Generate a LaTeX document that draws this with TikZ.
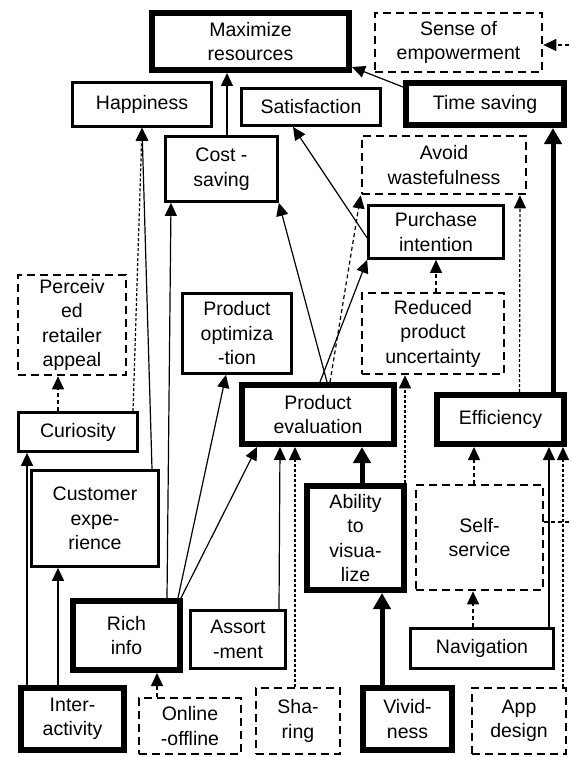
\documentclass[tikz,border=0pt]{standalone}
\usepackage{fontspec}
\setmainfont{Liberation Sans}
\usetikzlibrary{arrows.meta}

\begin{document}
\begin{tikzpicture}[x=1pt,y=-1pt,
  every node/.style={font=\fontsize{19.5}{24.5}\selectfont, align=center, inner sep=0pt},
  thinbox/.style={draw, line width=2.7pt},
  heavybox/.style={draw, line width=6pt},
  dashbox/.style={draw, line width=2.7pt, dash pattern=on 8pt off 5pt},
  conn/.style={line width=1.2pt, -{Triangle[length=13pt,width=12pt]}},
  heavyconn/.style={line width=5pt, -{Triangle[length=16pt,width=17pt]}},
  dashconn/.style={conn, dash pattern=on 4pt off 3pt},
  dotconn/.style={conn, dash pattern=on 3pt off 2pt}]

\useasboundingbox (0,0) rectangle (570,757);

% ---- boxes ----
\node[heavybox, minimum width=197pt, minimum height=57pt] (maxres) at (250.5,41.5) {Maximize\\resources};
\node[dashbox, minimum width=167pt, minimum height=59pt] (sense) at (458.5,42.5) {Sense of\\empowerment};
\node[thinbox, minimum width=139pt, minimum height=44pt] (happy) at (142,104.5) {Happiness};
\node[thinbox, minimum width=139pt, minimum height=37pt] (satis) at (311,107) {Satisfaction};
\node[heavybox, minimum width=158pt, minimum height=42pt] (timesave) at (485,104) {Time saving};
\node[thinbox, minimum width=112pt, minimum height=65pt] (cost) at (221.5,169) {Cost -\\saving};
\node[dashbox, minimum width=164pt, minimum height=58pt] (avoid) at (444,165) {Avoid\\wastefulness};
\node[thinbox, minimum width=135pt, minimum height=53pt] (purch) at (436,232) {Purchase\\intention};
\node[dashbox, minimum width=108pt, minimum height=100pt] (perc) at (72,325) {Perceiv\\ed\\retailer\\appeal};
\node[thinbox, minimum width=109pt, minimum height=80pt] (prodopt) at (237,333.5) {Product\\optimiza\\-tion};
\node[dashbox, minimum width=142pt, minimum height=81pt] (reduced) at (433,333.5) {Reduced\\product\\uncertainty};
\node[thinbox, minimum width=119pt, minimum height=39pt] (curio) at (78,432) {Curiosity};
\node[heavybox, minimum width=152pt, minimum height=59pt] (prodeval) at (318,414.5) {Product\\evaluation};
\node[heavybox, minimum width=127pt, minimum height=49pt] (effic) at (500.5,419.5) {Efficiency};
\node[thinbox, minimum width=127pt, minimum height=96pt] (custexp) at (95,518.5) {Customer\\expe-\\rience};
\node[heavybox, minimum width=97pt, minimum height=104pt] (ability) at (355.5,538) {Ability\\to\\visua-\\lize};
\node[dashbox, minimum width=127pt, minimum height=105pt] (self) at (479.5,537.5) {Self-\\service};
\node[heavybox, minimum width=107pt, minimum height=69pt] (rich) at (126.5,635.5) {Rich\\info};
\node[thinbox, minimum width=95pt, minimum height=58pt] (assort) at (238,639.5) {Assort\\-ment};
\node[thinbox, minimum width=143pt, minimum height=40pt] (navig) at (482,648.5) {Navigation};
\node[heavybox, minimum width=103pt, minimum height=62pt] (inter) at (72.5,719) {Inter-\\activity};
\node[dashbox, minimum width=102pt, minimum height=56pt] (online) at (190,726) {Online\\-offline};
\node[dashbox, minimum width=84pt, minimum height=66pt] (sharing) at (298,721) {Sha-\\ring};
\node[heavybox, minimum width=89pt, minimum height=62pt] (vivid) at (407.5,719) {Vivid-\\ness};
\node[dashbox, minimum width=94pt, minimum height=66pt] (app) at (519,721) {App\\design};

% ---- links into the lower left cluster ----
\draw[conn] ([xshift=-14.5pt]inter.north) -- ([xshift=-37pt]custexp.south);
\draw[conn] ([xshift=-45.5pt]inter.north) -- ([xshift=-51pt]curio.south);
\draw[dashconn] ([xshift=-20pt]curio.north) -- ([xshift=-14pt]perc.south);
\draw[dotconn] ([xshift=55pt]curio.north) -- (happy.south);
\draw[conn] ([xshift=57pt]custexp.north) -- (happy.south);
\draw[dashconn] ([xshift=-33pt]online.north) -- ([xshift=30.5pt]rich.south);

% ---- rich info ----
\draw[conn] ([xshift=40.5pt]rich.north) -- ([xshift=-50.5pt]cost.south);
\draw[conn] ([xshift=51.5pt]rich.north) -- ([xshift=-11pt]prodopt.south);
\draw[conn] ([xshift=-2pt]rich.north east) -- ([xshift=-61pt]prodeval.south);

% ---- into product evaluation ----
\draw[conn] ([xshift=41pt]assort.north) -- ([xshift=-38pt]prodeval.south);
\draw[dotconn] ([xshift=-3pt]sharing.north) -- ([xshift=-23pt]prodeval.south);
\draw[heavyconn] ([xshift=6.5pt]ability.north) -- ([xshift=44pt]prodeval.south);
\draw[heavyconn] ([xshift=-25.5pt]vivid.north) -- ([xshift=26.5pt]ability.south);
\draw[dotconn] ([xshift=49.5pt]ability.north) -- ([xshift=-28pt]reduced.south);

% ---- out of product evaluation ----
\draw[conn] ([xshift=9pt]prodeval.north) -- (cost.south east);
\draw[conn] ([xshift=2pt]prodeval.north) -- (purch.south west);
\draw[dashconn] ([xshift=12pt]prodeval.north) -- (avoid.south west);
\draw[dashconn] ([xshift=3pt]reduced.north) -- (purch.south);
\draw[conn] ([yshift=-6pt]purch.west) -- ([xshift=-18pt]satis.south);

% ---- top level ----
\draw[conn] ([xshift=5.5pt]cost.north) -- ([xshift=-23.5pt]maxres.south);
\draw[conn] ([yshift=-7pt]timesave.north west) -- ([yshift=6pt]maxres.south east);

% ---- right cluster ----
\draw[heavyconn] ([xshift=52.5pt]effic.north) -- ([xshift=68pt]timesave.south);
\draw[dotconn] ([xshift=19pt]effic.north) -- ([xshift=76pt]avoid.south);
\draw[dashconn] ([xshift=-5.5pt]self.north) -- ([xshift=-26.5pt]effic.south);
\draw[dashconn] ([xshift=-9pt]navig.north) -- ([xshift=-6.5pt]self.south);
\draw[conn] ([xshift=67pt]navig.north) -- ([xshift=48.5pt]effic.south);
\draw[dotconn] ([xshift=44pt]app.north) -- ([xshift=62.5pt]effic.south);
\draw[dashconn] ([yshift=15.5pt]self.east) -- ++(40,0) |- ([yshift=-2.5pt]sense.east);

\end{tikzpicture}
\end{document}
